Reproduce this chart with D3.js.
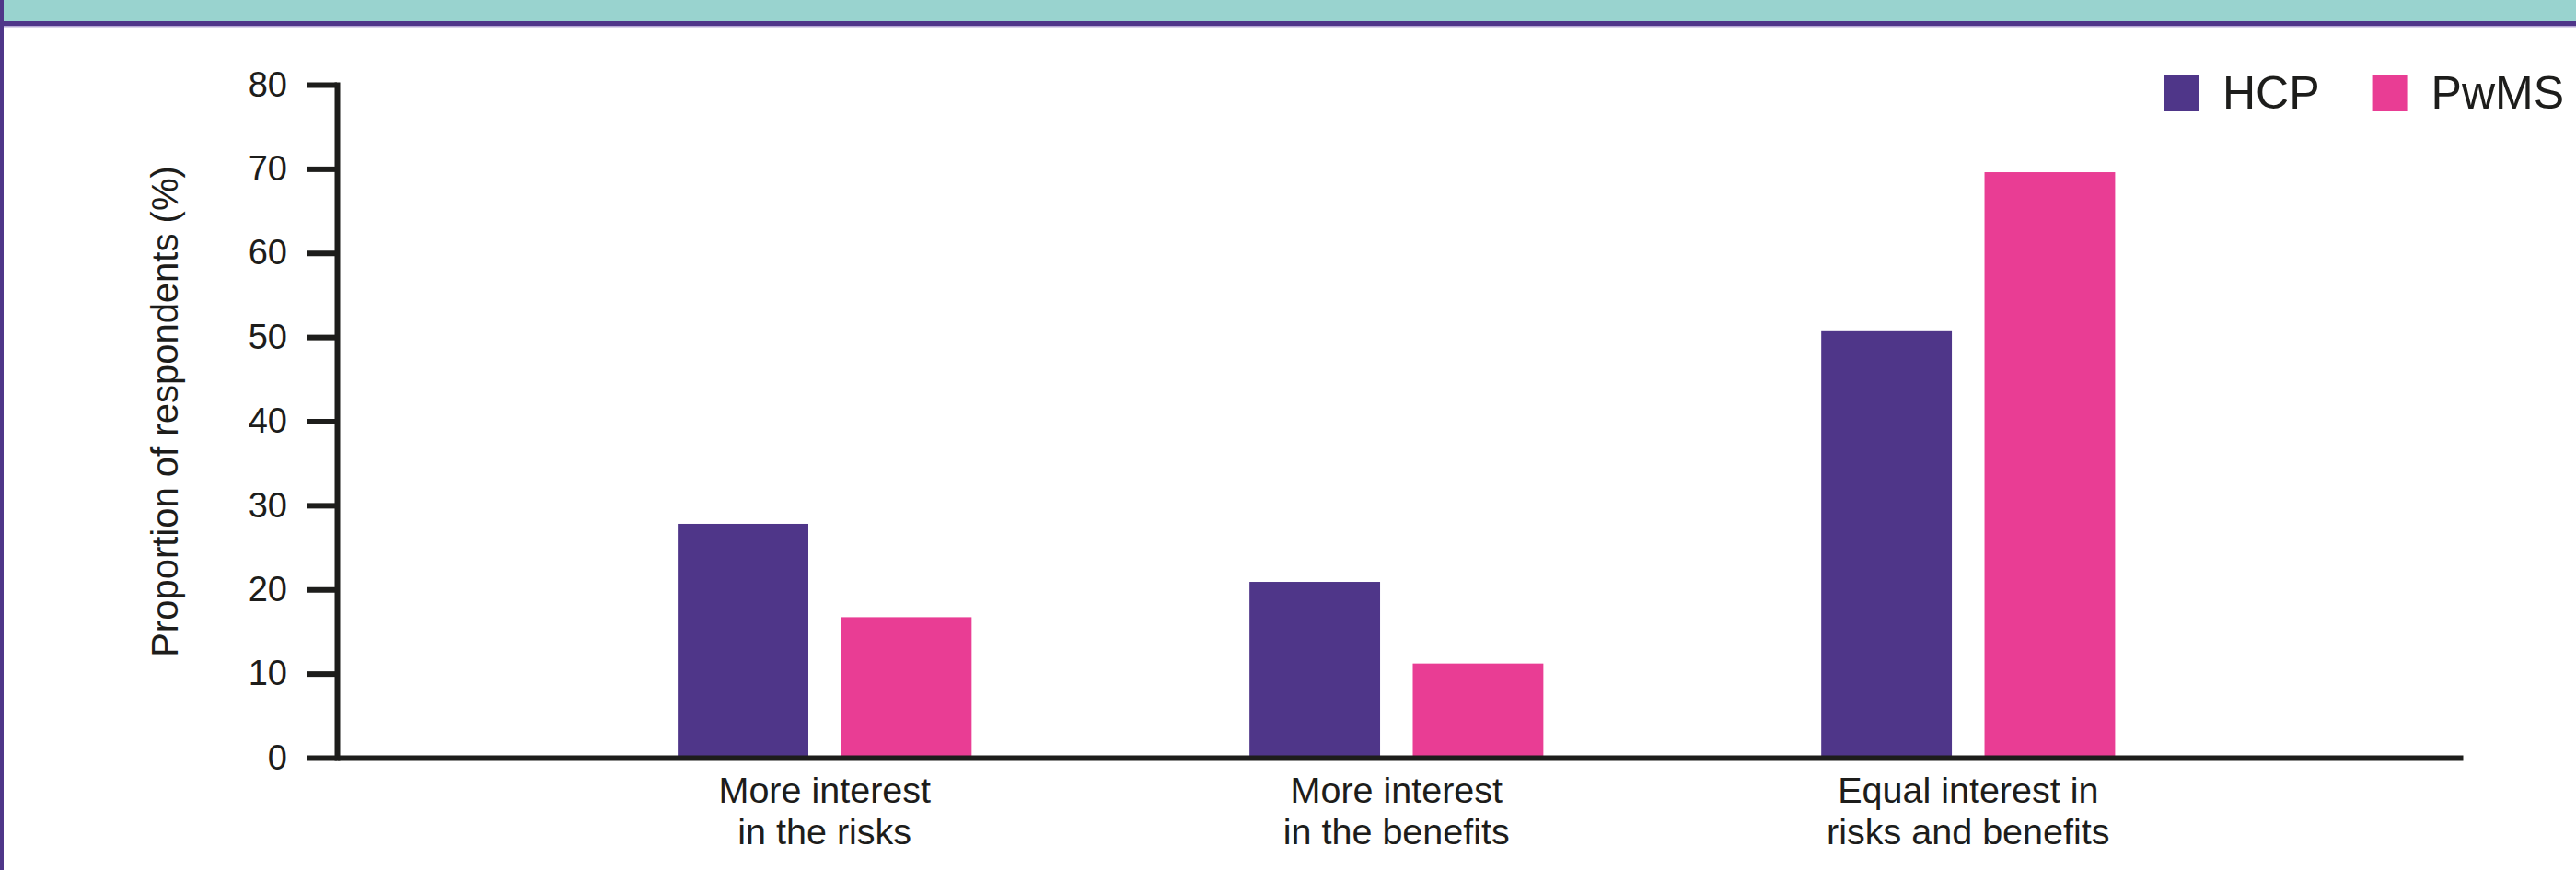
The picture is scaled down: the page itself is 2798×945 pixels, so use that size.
<!DOCTYPE html>
<html>
<head>
<meta charset="utf-8">
<script src="https://cdn.jsdelivr.net/npm/d3@7"></script>
<style>
  body { margin: 0; background: #fff; }
  text { font-family: "Liberation Sans", Arial, sans-serif; fill: #1d1d1b; }
</style>
</head>
<body>
<div id="chart"></div>
<script>
// data
var categories = [
  ["More interest", "in the risks"],
  ["More interest", "in the benefits"],
  ["Equal interest in", "risks and benefits"]
];
var seriesNames = ["HCP", "PwMS"];
var hcpValues = [27.8, 20.9, 50.8];
var pwmsValues = [16.7, 11.2, 69.6];
var yTicks = [0, 10, 20, 30, 40, 50, 60, 70, 80];

var svgWidth = 2798;
var svgHeight = 945;

var colors = { HCP: "#4f3689", PwMS: "#e93d94" };
var ink = "#1d1d1b";

var plot = { left: 366, right: 2675, top: 92, bottom: 823 };

var svg = d3.select("#chart")
  .append("svg")
  .attr("width", svgWidth)
  .attr("height", svgHeight);

// header band + left border
svg.append("rect").attr("x", 0).attr("y", 0).attr("width", svgWidth).attr("height", 23).attr("fill", "#99d3cf");
svg.append("rect").attr("x", 0).attr("y", 23).attr("width", svgWidth).attr("height", 5).attr("fill", "#4f3689");
svg.append("rect").attr("x", 0).attr("y", 28).attr("width", svgWidth).attr("height", 1.5).attr("fill", "#b7a9d6");
svg.append("rect").attr("x", 0).attr("y", 0).attr("width", 4).attr("height", svgHeight).attr("fill", "#4f3689");

var keys = categories.map(function(c) { return c.join(" "); });
var rows = keys.map(function(k, i) {
  return { key: k, lines: categories[i], HCP: hcpValues[i], PwMS: pwmsValues[i] };
});

var x0 = d3.scaleBand()
  .domain(keys)
  .range([plot.left, plot.right])
  .paddingInner(0.486)
  .paddingOuter(0.602)
  .align(0.495);

var x1 = d3.scaleBand()
  .domain(seriesNames)
  .range([0, x0.bandwidth()])
  .paddingInner(0.2);

var y = d3.scaleLinear()
  .domain([0, 80])
  .range([plot.bottom, plot.top]);

// bars
var groups = svg.append("g").selectAll("g")
  .data(rows)
  .enter()
  .append("g")
  .attr("transform", function(d) { return "translate(" + x0(d.key) + ",0)"; });

groups.selectAll("rect")
  .data(function(d) { return seriesNames.map(function(s) { return { s: s, v: d[s] }; }); })
  .enter()
  .append("rect")
  .attr("x", function(d) { return x1(d.s); })
  .attr("y", function(d) { return y(d.v); })
  .attr("width", x1.bandwidth())
  .attr("height", function(d) { return y(0) - y(d.v); })
  .attr("fill", function(d) { return colors[d.s]; });

// y axis
var leftAxis = d3.axisLeft(y).tickValues(yTicks).tickSize(32).tickSizeOuter(0).tickPadding(22);
var yAxis = svg.append("g")
  .attr("transform", "translate(" + plot.left + ",0)")
  .call(leftAxis);
yAxis.selectAll("path, line").attr("stroke", ink).attr("stroke-width", 6);
yAxis.select(".domain").attr("stroke-linecap", "square");
yAxis.selectAll("text").attr("font-size", 38).style("font-family", "Liberation Sans, Arial, sans-serif").attr("fill", ink);

// x axis
var bottomAxis = d3.axisBottom(x0).tickSize(0).tickSizeOuter(0);
var xAxis = svg.append("g")
  .attr("transform", "translate(0," + plot.bottom + ")")
  .call(bottomAxis);
xAxis.select(".domain").attr("stroke", ink).attr("stroke-width", 6);
xAxis.selectAll(".tick text").remove();
xAxis.selectAll(".tick").each(function(k, i) {
  var t = d3.select(this).append("text")
    .attr("text-anchor", "middle")
    .attr("font-size", 39.5)
    .attr("y", 49);
  categories[i].forEach(function(line, j) {
    t.append("tspan").attr("x", 0).attr("dy", j === 0 ? 0 : 45).text(line);
  });
});

// y axis title
svg.append("text")
  .attr("transform", "rotate(-90)")
  .attr("x", -447)
  .attr("y", 193)
  .attr("text-anchor", "middle")
  .attr("font-size", 40)
  .text("Proportion of respondents (%)");

// legend
var legend = svg.append("g").attr("transform", "translate(2350,82)");
var lx = 0;
seriesNames.forEach(function(s) {
  legend.append("rect")
    .attr("x", lx).attr("y", 0)
    .attr("width", 38).attr("height", 39)
    .attr("fill", colors[s]);
  var label = legend.append("text")
    .attr("x", lx + 64)
    .attr("y", 36)
    .attr("font-size", 50)
    .text(s);
  lx += 64 + label.node().getComputedTextLength() + 57;
});
</script>
</body>
</html>
